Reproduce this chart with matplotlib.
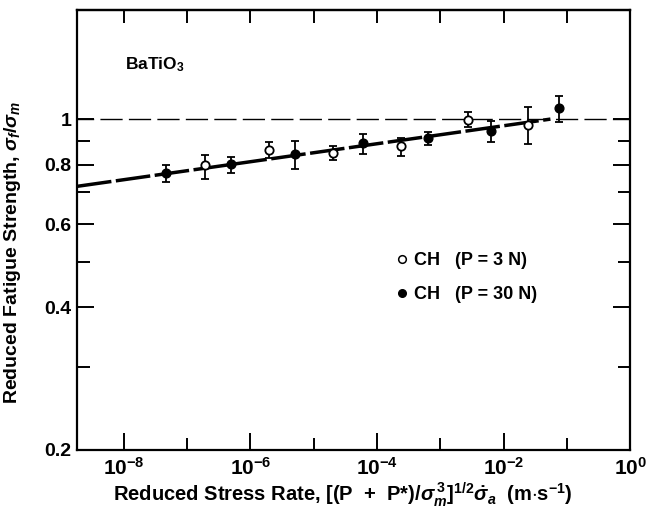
import numpy as np
import matplotlib
matplotlib.use('Agg')
import matplotlib.pyplot as plt
from matplotlib.lines import Line2D
from matplotlib.ticker import FixedLocator, NullFormatter, FixedFormatter

plt.rcParams['font.family'] = ['Liberation Sans', 'DejaVu Sans']
plt.rcParams['font.weight'] = 'bold'
plt.rcParams['mathtext.fontset'] = 'custom'
plt.rcParams['mathtext.rm'] = 'Liberation Sans:bold'
plt.rcParams['mathtext.bf'] = 'Liberation Sans:bold'
plt.rcParams['mathtext.it'] = 'Liberation Sans:italic:bold'

# open circles: CH (P = 3 N)
open_logx = [-6.71, -5.70, -4.70, -3.62, -2.56, -1.62]
open_y = [0.800, 0.861, 0.849, 0.879, 0.997, 0.970]
open_lo = [0.748, 0.826, 0.820, 0.837, 0.960, 0.886]
open_hi = [0.841, 0.893, 0.876, 0.911, 1.033, 1.062]

# filled circles: CH (P = 30 N)
filled_logx = [-7.33, -6.31, -5.29, -4.22, -3.19, -2.20, -1.13]
filled_y = [0.771, 0.804, 0.844, 0.889, 0.913, 0.944, 1.055]
filled_lo = [0.738, 0.771, 0.783, 0.845, 0.883, 0.893, 0.984]
filled_hi = [0.800, 0.832, 0.898, 0.929, 0.938, 0.990, 1.119]

# fitted line (log x endpoints, y endpoints)
fit_logx = [-8.74, -1.26]
fit_y = [0.721, 1.0]

xlim_log = (-8.74, 0)
ylim = (0.2, 1.7)

fig = plt.figure(figsize=(6.47, 5.11), dpi=100)
ax = fig.add_axes([0.119, 0.1194, 0.855, 0.861])
ax.set_xscale('log')
ax.set_yscale('log')

ox = 10.0 ** np.array(open_logx)
fx = 10.0 ** np.array(filled_logx)
oy = np.array(open_y)
fy = np.array(filled_y)

ax.axhline(1.0, color='black', lw=1.0, linestyle=(4, (16, 4.5)), zorder=1)
ax.plot(10.0 ** np.array(fit_logx), fit_y, color='black', lw=2.5,
        linestyle=(0, (10, 1.3)), zorder=2)

ax.errorbar(ox, oy, yerr=[oy - np.array(open_lo), np.array(open_hi) - oy],
            fmt='o', mfc='white', mec='black', ecolor='black', ms=6, mew=1.3,
            elinewidth=1.3, capsize=2.6, capthick=1.3, zorder=3)
ax.errorbar(fx, fy, yerr=[fy - np.array(filled_lo), np.array(filled_hi) - fy],
            fmt='o', mfc='black', mec='black', ecolor='black', ms=6.3,
            elinewidth=1.3, capsize=2.6, capthick=1.3, zorder=3)

ax.set_xlim(10.0 ** xlim_log[0], 10.0 ** xlim_log[1])
ax.set_ylim(*ylim)

# x ticks
ax.xaxis.set_major_locator(FixedLocator([1e-8, 1e-6, 1e-4, 1e-2, 1e0]))
ax.xaxis.set_major_formatter(FixedFormatter([r'$10^{-8}$', r'$10^{-6}$', r'$10^{-4}$',
                                             r'$10^{-2}$', r'$10^{0}$']))
ax.xaxis.set_minor_locator(FixedLocator([1e-7, 1e-5, 1e-3, 1e-1]))
ax.xaxis.set_minor_formatter(NullFormatter())

# y ticks
ax.yaxis.set_major_locator(FixedLocator([0.2, 0.4, 0.6, 0.8, 1.0]))
ax.yaxis.set_major_formatter(FixedFormatter(['0.2', '0.4', '0.6', '0.8', '1']))
ax.yaxis.set_minor_locator(FixedLocator([0.3, 0.5, 0.7, 0.9]))
ax.yaxis.set_minor_formatter(NullFormatter())

ax.tick_params(which='both', direction='in', left=True, right=True, bottom=True,
               top=False, width=1.4)
ax.tick_params(which='major', length=12.5)
ax.tick_params(which='minor', length=9)
ax.tick_params(axis='y', pad=4, labelsize=14)
ax.tick_params(axis='x', pad=5, labelsize=15)

top = ax.secondary_xaxis('top')
top.xaxis.set_major_locator(FixedLocator([1e-8, 1e-7, 1e-6, 1e-5, 1e-4, 1e-3, 1e-2, 1e-1]))
top.xaxis.set_minor_locator(FixedLocator([]))
top.tick_params(direction='in', length=9.5, width=1.4, labeltop=False)
top.spines['top'].set_linewidth(1.6)

for s in ax.spines.values():
    s.set_linewidth(1.6)

ax.text(0.087, 0.865, r'BaTiO$_3$', transform=ax.transAxes, fontsize=12.5, fontweight='bold')

handles = [Line2D([], [], ls='none', marker='o', mfc='white', mec='black', ms=5.5, mew=1.1),
           Line2D([], [], ls='none', marker='o', mfc='black', mec='black', ms=5.5)]
ax.legend(handles, ['CH   (P = 3 N)', 'CH   (P = 30 N)'], loc='upper left',
          bbox_to_anchor=(0.577, 0.45), frameon=False, handlelength=0.6,
          handletextpad=0.4, labelspacing=0.95, borderpad=0, borderaxespad=0,
          prop={'size': 13, 'weight': 'bold'})

ax.set_xlabel(r'Reduced Stress Rate, [(P  +  P*)/$\sigma_m^{\,3}$]$^{1/2}$$\dot{\sigma}_a$  (m$\cdot$s$^{-1}$)',
              fontsize=14.5, fontweight='bold')
ax.xaxis.set_label_coords(0.48, -0.07)
ax.set_ylabel(r'Reduced Fatigue Strength, $\sigma_f/\sigma_m$', fontsize=14,
              fontweight='bold')
ax.yaxis.set_label_coords(-0.098, 0.45)

fig.savefig('out.png', dpi=100)
